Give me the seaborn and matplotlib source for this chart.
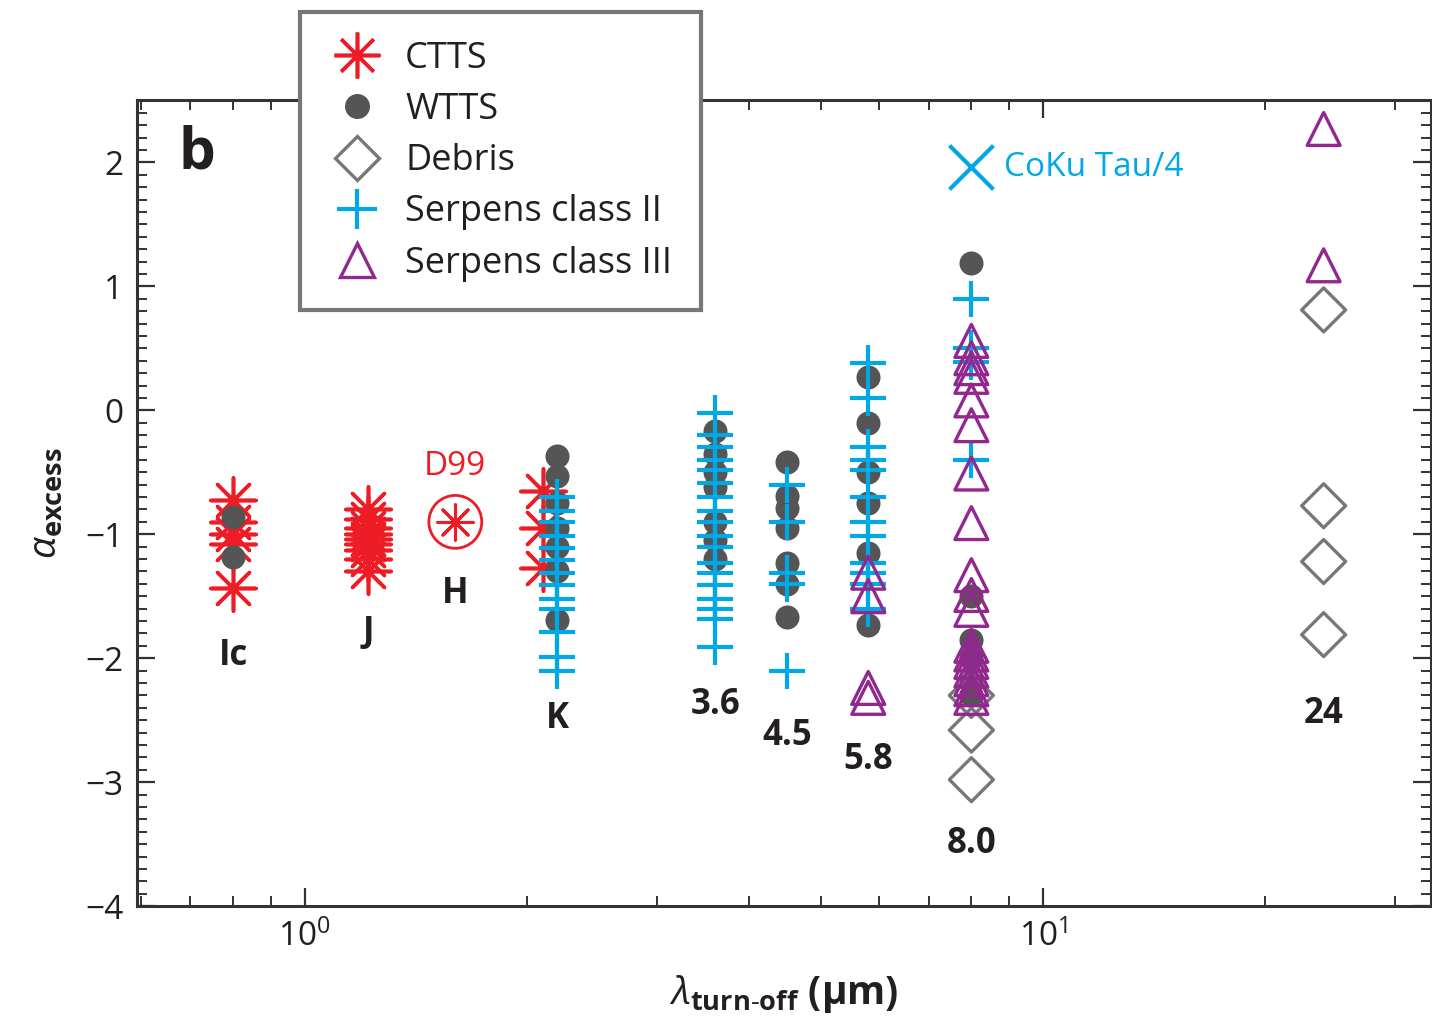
import numpy as np
import pandas as pd
import matplotlib
matplotlib.use("Agg")
import matplotlib.pyplot as plt
from matplotlib.ticker import FixedLocator, NullFormatter, MultipleLocator, FuncFormatter
from matplotlib.lines import Line2D
import seaborn as sns

# ---------------- data ----------------
ctts_x = [0.8] * 5 + [1.22] * 9 + [2.1] * 3
ctts_y = [-0.72, -0.9, -1.0, -1.08, -1.43,
          -0.8, -0.88, -0.95, -1.0, -1.04, -1.08, -1.13, -1.2, -1.3,
          -0.65, -0.95, -1.27]
d99_x, d99_y = 1.6, -0.9

wtts_x = [0.8] * 2 + [2.2] * 7 + [3.6] * 7 + [4.5] * 7 + [5.8] * 6 + [8.0] * 6
wtts_y = [-0.86, -1.18,
          -0.37, -0.53, -0.75, -0.95, -1.1, -1.3, -1.69,
          -0.17, -0.35, -0.5, -0.62, -0.9, -1.05, -1.2,
          -0.42, -0.69, -0.79, -0.95, -1.23, -1.40, -1.67,
          0.27, -0.1, -0.5, -0.75, -1.15, -1.73,
          1.19, -1.5, -1.85, -2.0, -2.2, -2.3]

debris_x = [8.0] * 3 + [24] * 4
debris_y = [-2.3, -2.58, -2.98, 0.81, -0.77, -1.22, -1.81]

serp2_x = [2.2] * 13 + [3.6] * 18 + [4.5] * 5 + [5.8] * 12 + [8.0] * 4
serp2_y = [-0.70, -0.81, -0.90, -1.01, -1.11, -1.21, -1.31, -1.41, -1.52, -1.60, -1.79, -1.99, -2.10,
           -0.02, -0.20, -0.30, -0.40, -0.48, -0.59, -0.70, -0.81, -0.90, -1.01, -1.10, -1.23,
           -1.31, -1.41, -1.52, -1.60, -1.68, -1.91,
           -0.60, -0.90, -1.31, -1.40, -2.10,
           0.38, 0.10, -0.30, -0.40, -0.48, -0.70, -0.90, -1.01, -1.23, -1.31, -1.40, -1.60,
           0.90, 0.50, 0.39, -0.40]

serp3_x = [5.8] * 4 + [8.0] * 18 + [24] * 2
serp3_y = [-1.31, -1.5, -2.24, -2.32,
           0.56, 0.42, 0.34, 0.27, 0.08, -0.12, -0.51, -0.91, -1.33, -1.49, -1.61,
           -1.9, -1.97, -2.03, -2.1, -2.17, -2.25, -2.32,
           2.27, 1.17]

coku_x, coku_y = 8.0, 1.96

band_names = ["Ic", "J", "H", "K", "3.6", "4.5", "5.8", "8.0", "24"]
band_x = [0.8, 1.22, 1.6, 2.2, 3.6, 4.5, 5.8, 8.0, 24]
band_y = [-1.98, -1.8, -1.48, -2.49, -2.38, -2.63, -2.82, -3.5, -2.45]

# ---------------- style ----------------
sns.set_style("ticks")
plt.rcParams["font.family"] = ["Open Sans", "DejaVu Sans"]
plt.rcParams["mathtext.fontset"] = "custom"
plt.rcParams["mathtext.rm"] = "Open Sans"
plt.rcParams["mathtext.it"] = "Open Sans:italic"
plt.rcParams["mathtext.bf"] = "Open Sans:bold"

RED = "#ee1c25"
GRAY = "#555555"
DGRAY = "#777777"
CYAN = "#00a9e6"
PURPLE = "#92278f"
TXT = "#231f20"
AST = (8, 2, 0)

fig = plt.figure(figsize=(14.32, 10.25), dpi=100)
ax = fig.add_axes([0.0957, 0.116, 0.9033, 0.786])

sns.scatterplot(x=ctts_x, y=ctts_y, marker=AST, s=1050, color=RED, linewidth=2.6, ax=ax, zorder=3)
sns.scatterplot(x=[d99_x], y=[d99_y], marker=AST, s=650, color=RED, linewidth=2.2, ax=ax, zorder=3)
sns.scatterplot(x=[d99_x], y=[d99_y], marker="o", s=1450, facecolor="none", edgecolor=RED, linewidth=2.0, ax=ax, zorder=3)
sns.scatterplot(x=wtts_x, y=wtts_y, marker="o", s=300, color=GRAY, linewidth=0, ax=ax, zorder=4)
sns.scatterplot(x=debris_x, y=debris_y, marker="D", s=500, facecolor="none", edgecolor=DGRAY, linewidth=2.4, ax=ax, zorder=5)
sns.scatterplot(x=serp2_x, y=serp2_y, marker="+", s=700, color=CYAN, linewidth=3.0, ax=ax, zorder=6)
sns.scatterplot(x=serp3_x, y=serp3_y, marker="^", s=560, facecolor="none", edgecolor=PURPLE, linewidth=2.4, ax=ax, zorder=7)
sns.scatterplot(x=[coku_x], y=[coku_y], marker="x", s=1000, color=CYAN, linewidth=3.0, ax=ax, zorder=7)

ax.set_xscale("log")
ax.set_xlim(0.593, 33.5)
ax.set_ylim(-4, 2.5)

ax.xaxis.set_major_locator(FixedLocator([1, 10]))
ax.xaxis.set_major_formatter(FuncFormatter(lambda v, p: r"$10^{%d}$" % round(np.log10(v))))
ax.xaxis.set_minor_locator(FixedLocator([0.6, 0.7, 0.8, 0.9, 2, 3, 4, 5, 6, 7, 8, 9, 20, 30]))
ax.xaxis.set_minor_formatter(NullFormatter())
ax.yaxis.set_major_locator(MultipleLocator(1))
ax.yaxis.set_minor_locator(MultipleLocator(0.1))
ax.yaxis.set_major_formatter(FuncFormatter(lambda v, p: ("\u2212%d" % abs(v)) if v < 0 else "%d" % v))

ax.tick_params(which="both", direction="in", top=True, right=True, color="#333333",
               labelsize=24, labelcolor=TXT, pad=10)
ax.tick_params(which="major", length=13, width=1.6)
ax.tick_params(which="minor", length=7, width=1.4)
for sp in ax.spines.values():
    sp.set_linewidth(2.2)
    sp.set_color("#333333")

ax.set_xlabel(r"$\lambda_{\mathbf{turn\text{-}off}}$ (µm)", fontsize=28, fontweight="bold", color=TXT, labelpad=14)
ax.set_ylabel(r"$\alpha_{\mathbf{excess}}$", fontsize=28, color=TXT, labelpad=14)

for name, bx, by in zip(band_names, band_x, band_y):
    ax.text(bx, by, name, ha="center", va="center", fontsize=25, fontweight="bold", color=TXT, zorder=8)
ax.text(d99_x, -0.45, "D99", ha="center", va="center", fontsize=24, color=RED)
ax.text(8.85, coku_y, "CoKu Tau/4", ha="left", va="center", fontsize=24, color=CYAN)
ax.text(0.715, 2.07, "b", ha="center", va="center", fontsize=42, fontweight="bold", color=TXT)

handles = [
    Line2D([], [], linestyle="none", marker=AST, markersize=33, color=RED, markeredgewidth=2.6),
    Line2D([], [], linestyle="none", marker="o", markersize=18, color=GRAY, markeredgewidth=0),
    Line2D([], [], linestyle="none", marker="D", markersize=22, markerfacecolor="none", markeredgecolor=DGRAY, markeredgewidth=2.4),
    Line2D([], [], linestyle="none", marker="+", markersize=29, color=CYAN, markeredgewidth=3.0),
    Line2D([], [], linestyle="none", marker="^", markersize=24, markerfacecolor="none", markeredgecolor=PURPLE, markeredgewidth=2.4),
]
labels = ["CTTS", "WTTS", "Debris", "Serpens class II", "Serpens class III"]
leg = fig.legend(handles, labels, loc="upper left", bbox_to_anchor=(300 / 1432, 1 - 12 / 1025),
                 fontsize=26, frameon=True, fancybox=False, framealpha=1, edgecolor="#777777",
                 handlelength=1.55, handletextpad=0.56, labelspacing=0.42, borderpad=0.8,
                 borderaxespad=0)
leg.get_frame().set_linewidth(3)
for t in leg.get_texts():
    t.set_color(TXT)

fig.savefig("out.png", dpi=100)
